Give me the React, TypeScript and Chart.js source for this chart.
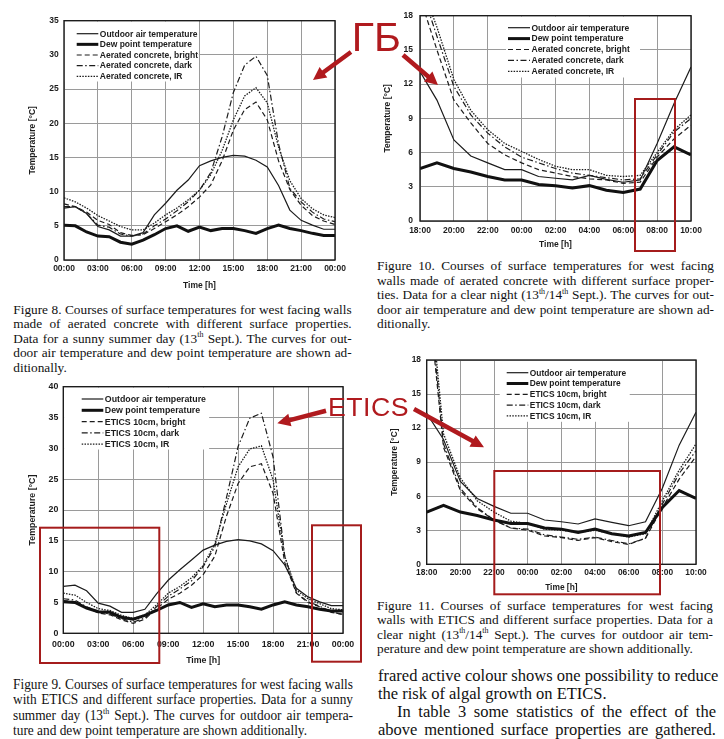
import React, { useEffect, useRef } from 'react';
import { Chart, registerables } from 'chart.js';
Chart.register(...registerables);

// ---------------- data ----------------
const HOURS_DAY = [0, 1, 2, 3, 4, 5, 6, 7, 8, 9, 10, 11, 12, 13, 14, 15, 16, 17, 18, 19, 20, 21, 22, 23, 24];
const HOURS_NIGHT = [18, 19, 20, 21, 22, 23, 24, 25, 26, 27, 28, 29, 30, 31, 32, 33, 34];

const X_LABELS_DAY = ['00:00', '03:00', '06:00', '09:00', '12:00', '15:00', '18:00', '21:00', '00:00'];
const X_LABELS_NIGHT = ['18:00', '20:00', '22:00', '00:00', '02:00', '04:00', '06:00', '08:00', '10:00'];

const LABELS_AC = ['Outdoor air temperature', 'Dew point temperature', 'Aerated concrete, bright', 'Aerated concrete, dark', 'Aerated concrete, IR'];
const LABELS_ETICS = ['Outdoor air temperature', 'Dew point temperature', 'ETICS 10cm, bright', 'ETICS 10cm, dark', 'ETICS 10cm, IR'];

// Figure 8 (sunny day, aerated concrete)
const outdoor8 = [7.6, 7.8, 6.8, 4.9, 4.4, 3.5, 3.5, 4.0, 6.6, 8.3, 10.2, 11.7, 13.8, 14.5, 15.0, 15.3, 15.2, 14.6, 13.6, 10.9, 7.3, 5.8, 5.1, 4.5, 4.5];
const dew8 = [5.1, 5.0, 4.1, 3.5, 3.4, 2.6, 2.3, 2.9, 3.7, 4.6, 5.0, 4.2, 4.8, 4.3, 4.6, 4.6, 4.3, 3.9, 4.6, 5.1, 4.6, 4.3, 3.9, 3.6, 3.6];
const bright8 = [8.2, 7.8, 7.0, 5.8, 5.2, 4.0, 3.6, 3.7, 4.6, 5.6, 6.6, 7.8, 9.2, 11.0, 14.5, 19.0, 22.0, 23.1, 20.5, 14.5, 10.3, 8.0, 6.5, 5.7, 5.2];
const dark8 = [7.8, 7.8, 6.8, 5.1, 4.8, 3.8, 3.5, 3.8, 5.0, 6.0, 7.2, 8.5, 10.2, 12.8, 18.0, 24.5, 28.5, 29.8, 27.0, 17.0, 10.5, 8.5, 7.0, 6.0, 5.6];
const ir8 = [9.1, 8.5, 7.6, 6.5, 5.7, 4.9, 4.4, 4.4, 5.4, 6.6, 7.6, 8.8, 10.2, 12.5, 16.0, 20.5, 24.0, 25.2, 23.0, 16.5, 11.6, 9.0, 7.5, 6.6, 6.2];

// Figure 10 (clear night, aerated concrete)
const outdoor10 = [13.1, 10.6, 7.1, 5.7, 5.1, 4.5, 4.5, 3.9, 3.75, 3.6, 4.0, 3.65, 3.4, 3.6, 6.8, 10.3, 13.5];
const dew10 = [4.6, 5.1, 4.6, 4.3, 3.9, 3.6, 3.6, 3.2, 3.1, 2.9, 3.1, 2.7, 2.5, 2.8, 5.3, 6.5, 5.8];
const bright10 = [19.6, 15.0, 10.6, 8.6, 6.8, 5.8, 5.1, 4.5, 4.2, 3.9, 3.7, 3.6, 3.3, 3.4, 5.6, 7.2, 8.4];
const dark10 = [20.7, 16.2, 11.8, 9.3, 7.7, 6.5, 5.6, 5.1, 4.6, 4.2, 4.0, 3.8, 3.6, 3.7, 5.8, 7.8, 9.0];
const ir10 = [21.0, 17.0, 12.4, 9.7, 8.0, 6.8, 6.1, 5.4, 4.8, 4.5, 4.5, 4.0, 3.9, 4.0, 6.0, 8.0, 9.3];

// Figure 9 (sunny day, ETICS)
const outdoor9 = [7.6, 7.8, 6.9, 4.9, 4.4, 3.4, 3.4, 3.9, 6.4, 8.6, 10.3, 11.9, 13.5, 14.3, 14.9, 15.2, 15.0, 14.5, 13.4, 11.1, 7.3, 5.9, 5.1, 4.5, 4.5];
const dew9 = [5.1, 5.0, 4.1, 3.5, 3.4, 2.6, 2.3, 2.9, 3.7, 4.6, 5.0, 4.2, 4.8, 4.3, 4.6, 4.6, 4.3, 3.9, 4.6, 5.1, 4.6, 4.3, 3.9, 3.6, 3.6];
const bright9 = [5.3, 5.1, 4.2, 3.3, 3.0, 2.2, 1.6, 2.3, 4.0, 5.5, 6.5, 7.8, 9.5, 12.5, 19.0, 24.3, 27.0, 27.5, 22.7, 11.5, 6.5, 5.0, 4.3, 3.4, 3.1];
const dark9 = [5.6, 5.4, 4.3, 3.5, 3.1, 2.4, 1.8, 2.5, 4.3, 6.0, 7.2, 8.5, 10.8, 14.0, 22.0, 30.3, 34.9, 35.7, 28.6, 12.5, 6.6, 5.1, 4.4, 3.5, 3.0];
const ir9 = [6.5, 6.2, 5.0, 4.0, 3.7, 2.9, 2.4, 3.0, 4.6, 6.5, 7.6, 9.0, 11.0, 14.5, 21.0, 27.0, 29.9, 30.4, 24.9, 12.5, 7.0, 5.6, 4.8, 4.0, 3.8];

// Figure 11 (clear night, ETICS)
const outdoor11 = [13.3, 11.0, 7.3, 5.8, 5.1, 4.5, 4.5, 3.9, 3.75, 3.55, 4.0, 3.7, 3.4, 3.75, 6.7, 10.5, 13.4];
const dew11 = [4.6, 5.2, 4.6, 4.3, 3.9, 3.6, 3.6, 3.2, 3.1, 2.8, 3.1, 2.7, 2.5, 2.8, 5.0, 6.5, 5.8];
const bright11 = [25.0, 10.3, 6.5, 4.9, 3.9, 3.2, 3.0, 2.5, 2.35, 2.1, 2.35, 2.0, 1.75, 2.3, 5.0, 7.5, 9.5];
const dark11 = [26.0, 10.6, 6.7, 5.0, 3.9, 3.2, 3.1, 2.6, 2.4, 2.2, 2.4, 2.1, 1.8, 2.3, 5.3, 8.0, 10.0];
const ir11 = [27.0, 11.5, 7.6, 5.6, 4.6, 3.8, 3.6, 3.1, 3.0, 2.8, 3.0, 2.7, 2.4, 2.7, 5.6, 8.3, 10.6];

// ---------------- text ----------------
const CAPTION_FIG8 = [
  'Figure 8. Courses of surface temperatures for west facing walls',
  'made of aerated concrete with different surface properties.',
  'Data for a sunny summer day (13^th Sept.). The curves for out-',
  'door air temperature and dew point temperature are shown ad-',
  'ditionally.',
];
const CAPTION_FIG10 = [
  'Figure 10. Courses of surface temperatures for west facing',
  'walls made of aerated concrete with different surface proper-',
  'ties. Data for a clear night (13^th/14^th Sept.). The curves for out-',
  'door air temperature and dew point temperature are shown ad-',
  'ditionally.',
];
const CAPTION_FIG9 = [
  'Figure 9. Courses of surface temperatures for west facing walls',
  'with ETICS and different surface properties. Data for a sunny',
  'summer day (13^th Sept.). The curves for outdoor air tempera-',
  'ture and dew point temperature are shown additionally.',
];
const CAPTION_FIG11 = [
  'Figure 11. Courses of surface temperatures for west facing',
  'walls with ETICS and different surface properties. Data for a',
  'clear night (13^th/14^th Sept.). The curves for outdoor air tem-',
  'perature and dew point temperature are shown additionally.',
];
const BODY_TEXT = [
  'frared active colour shows one possibility to reduce',
  'the risk of algal growth on ETICS.',
  'In table 3 some statistics of the effect of the',
  'above mentioned surface properties are gathered.',
];

// ---------------- chart helpers ----------------
const SANS = '"Liberation Sans", Arial, sans-serif';
const SERIF = '"Liberation Serif", "Times New Roman", serif';
const INK = '#1c1c1c';
const STYLES = [
  { borderWidth: 1.2, borderDash: [] as number[] },
  { borderWidth: 3, borderDash: [] as number[] },
  { borderWidth: 1.2, borderDash: [5, 3] },
  { borderWidth: 1.2, borderDash: [6, 2.5, 1.5, 2.5] },
  { borderWidth: 1.3, borderDash: [1.5, 1.3] },
];

const boxPlugin = {
  id: 'boxLegend',
  beforeDatasetsDraw(chart: any, _a: any, o: any) {
    const { ctx, chartArea: a } = chart;
    ctx.save();
    ctx.fillStyle = '#ffffff';
    ctx.fillRect(a.left + o.bx, a.top + 0.8, o.bw, o.bh);
    ctx.font = `bold ${o.fs}px ${SANS}`;
    ctx.textBaseline = 'middle';
    ctx.textAlign = 'left';
    chart.data.datasets.forEach((ds: any, i: number) => {
      const y = a.top + o.row0 + i * o.rowH;
      ctx.beginPath();
      ctx.setLineDash(ds.borderDash || []);
      ctx.lineWidth = ds.borderWidth;
      ctx.strokeStyle = ds.borderColor;
      ctx.moveTo(a.left + o.sx, y);
      ctx.lineTo(a.left + o.sx + o.sw, y);
      ctx.stroke();
      ctx.setLineDash([]);
      ctx.fillStyle = INK;
      ctx.fillText(ds.label, a.left + o.sx + o.sw + 1.5, y + 0.5);
    });
    ctx.restore();
  },
  afterDatasetsDraw(chart: any) {
    const { ctx, chartArea: a } = chart;
    ctx.save();
    ctx.strokeStyle = INK;
    ctx.lineWidth = 1.4;
    ctx.strokeRect(a.left, a.top, a.right - a.left, a.bottom - a.top);
    ctx.restore();
  },
};

function buildConfig(p: any) {
  const datasets = p.series.map((vals: number[], i: number) => ({
    label: p.labels[i],
    data: vals.map((v, j) => ({ x: p.hours[j], y: v })),
    borderColor: i === 1 ? '#111111' : INK,
    borderWidth: STYLES[i].borderWidth,
    borderDash: STYLES[i].borderDash,
    pointRadius: 0,
    tension: 0,
    fill: false,
  }));
  const font = { family: SANS, size: p.fs, weight: 'bold' as const };
  const grid = { color: '#9a9a9a', lineWidth: 1, drawTicks: false };
  return {
    type: 'line' as const,
    data: { datasets },
    options: {
      animation: false as const,
      responsive: false,
      events: [] as any[],
      layout: { padding: { left: 0, right: p.padR, top: p.padT, bottom: 0 } },
      plugins: {
        legend: { display: false },
        tooltip: { enabled: false },
        boxLegend: p.legend,
      },
      scales: {
        x: {
          type: 'linear' as const,
          min: p.xMin,
          max: p.xMax,
          ticks: {
            stepSize: p.xStep,
            autoSkip: false,
            maxRotation: 0,
            padding: p.xTickPad,
            font,
            color: INK,
            callback: (v: any) => p.xLabels[Math.round((Number(v) - p.xMin) / p.xStep)] ?? '',
          },
          grid,
          border: { display: false },
          title: { display: true, text: 'Time [h]', font, color: INK, padding: { top: 0, bottom: p.xTitlePad } },
          afterFit: (s: any) => { s.height = p.xH; },
        },
        y: {
          min: 0,
          max: p.yMax,
          ticks: { stepSize: p.yStep, padding: p.yTickPad, font, color: INK },
          grid,
          border: { display: false },
          title: { display: true, text: 'Temperature [°C]', font, color: INK, padding: { top: p.yTitlePad, bottom: 0 } },
          afterFit: (s: any) => { s.width = p.yW; },
        },
      },
    },
    plugins: [boxPlugin],
  };
}

const CHARTS = [
  {
    key: 'fig8', left: 0, top: 0, width: 360, height: 300,
    p: {
      hours: HOURS_DAY, series: [outdoor8, dew8, bright8, dark8, ir8], labels: LABELS_AC,
      xMin: 0, xMax: 24, xStep: 3, xLabels: X_LABELS_DAY, yMax: 35, yStep: 5,
      yW: 64, padR: 25, padT: 20.7, xH: 40, xTickPad: 3.9, xTitlePad: 8.9, yTickPad: 5.3, yTitlePad: 27.9, fs: 8.5,
      legend: { bx: 0.8, bw: 134, bh: 60, row0: 13, rowH: 10.65, sx: 12.7, sw: 21.6, fs: 8.5 },
    },
  },
  {
    key: 'fig10', left: 360, top: 0, width: 364, height: 250,
    p: {
      hours: HOURS_NIGHT, series: [outdoor10, dew10, bright10, dark10, ir10], labels: LABELS_AC,
      xMin: 18, xMax: 34, xStep: 2, xLabels: X_LABELS_NIGHT, yMax: 18, yStep: 3,
      yW: 60, padR: 33, padT: 15.7, xH: 29, xTickPad: 4.9, xTitlePad: 0, yTickPad: 7, yTitlePad: 22.9, fs: 8.5,
      legend: { bx: 86, bw: 134, bh: 61, row0: 12, rowH: 10.9, sx: 88, sw: 22, fs: 8.5 },
    },
  },
  {
    key: 'fig9', left: 0, top: 375, width: 360, height: 295,
    p: {
      hours: HOURS_DAY, series: [outdoor9, dew9, bright9, dark9, ir9], labels: LABELS_ETICS,
      xMin: 0, xMax: 24, xStep: 3, xLabels: X_LABELS_DAY, yMax: 40, yStep: 5,
      yW: 63.3, padR: 17, padT: 11.7, xH: 36.7, xTickPad: 5.6, xTitlePad: 3.9, yTickPad: 5, yTitlePad: 26.9, fs: 8.8,
      legend: { bx: 0.8, bw: 145, bh: 62, row0: 12.3, rowH: 11.3, sx: 18.4, sw: 21.6, fs: 8.8 },
    },
  },
  {
    key: 'fig11', left: 360, top: 345, width: 364, height: 250,
    p: {
      hours: HOURS_NIGHT, series: [outdoor11, dew11, bright11, dark11, ir11], labels: LABELS_ETICS,
      xMin: 18, xMax: 34, xStep: 2, xLabels: X_LABELS_NIGHT, yMax: 18, yStep: 3,
      yW: 66.7, padR: 28, padT: 15, xH: 30.7, xTickPad: 3.6, xTitlePad: 1.9, yTickPad: 5.7, yTitlePad: 29.9, fs: 8.4,
      legend: { bx: 73, bw: 130, bh: 61, row0: 12.7, rowH: 10.8, sx: 80, sw: 21.6, fs: 8.4 },
    },
  },
];

function ChartCanvas({ left, top, width, height, p }: any) {
  const ref = useRef<HTMLCanvasElement>(null);
  useEffect(() => {
    const chart = new Chart(ref.current as HTMLCanvasElement, buildConfig(p) as any);
    return () => chart.destroy();
  }, []);
  return (
    <canvas
      ref={ref}
      width={width}
      height={height}
      style={{ position: 'absolute', left, top, width, height }}
    />
  );
}

// ---------------- text helpers ----------------
function renderLine(s: string) {
  const parts = s.split('^th');
  const out: any[] = [];
  parts.forEach((part, i) => {
    out.push(<span key={'t' + i}>{part}</span>);
    if (i < parts.length - 1) {
      out.push(
        <sup key={'s' + i} style={{ fontSize: '0.6em', verticalAlign: 'top', lineHeight: 1, position: 'relative', top: '-0.05em' }}>th</sup>
      );
    }
  });
  return out;
}

function TextBlock({ lines, left, top, width, fs, lh, leftAligned, indents = {}, scaleX = 1 }: any) {
  return (
    <div style={{ position: 'absolute', left, top, width, transform: `scaleX(${scaleX})`, transformOrigin: '0 0' }}>
      {lines.map((ln: string, i: number) => {
        const ind = indents[i] || 0;
        const just = !leftAligned.includes(i);
        return (
          <div
            key={i}
            style={{
              position: 'absolute',
              left: ind,
              top: i * lh,
              width: width / scaleX - ind,
              fontFamily: SERIF,
              fontSize: fs,
              lineHeight: `${lh}px`,
              color: '#111',
              whiteSpace: 'nowrap',
              textAlign: just ? 'justify' : 'left',
              textAlignLast: just ? 'justify' : 'left',
            } as any}
          >
            {renderLine(ln)}
          </div>
        );
      })}
    </div>
  );
}

// ---------------- red annotations ----------------
const RED = '#b01a1e';
const RECT_RED = '#a51c1c';

function arrowPoints(x1: number, y1: number, x2: number, y2: number, sw = 4.5, hl = 13, hw = 13) {
  const dx = x2 - x1, dy = y2 - y1;
  const L = Math.hypot(dx, dy);
  const ux = dx / L, uy = dy / L, nx = -uy, ny = ux;
  const bx = x2 - ux * hl, by = y2 - uy * hl;
  const pts = [
    [x1 + nx * sw / 2, y1 + ny * sw / 2],
    [bx + nx * sw / 2, by + ny * sw / 2],
    [bx + nx * hw / 2, by + ny * hw / 2],
    [x2, y2],
    [bx - nx * hw / 2, by - ny * hw / 2],
    [bx - nx * sw / 2, by - ny * sw / 2],
    [x1 - nx * sw / 2, y1 - ny * sw / 2],
  ];
  return pts.map((q) => q[0].toFixed(1) + ',' + q[1].toFixed(1)).join(' ');
}

const ARROWS = [
  [351, 52, 313, 80],
  [403, 55, 438, 85],
  [326, 410.7, 277.3, 423.3],
  [414, 409, 484, 447.3],
];
const RECTS = [
  [635, 99, 675, 251],
  [40, 527.7, 159.3, 663],
  [312, 525.3, 361, 661.7],
  [494.3, 471, 660, 594.3],
];

function Overlay() {
  return (
    <svg width={724} height={739} style={{ position: 'absolute', left: 0, top: 0, pointerEvents: 'none' }}>
      {RECTS.map((r, i) => (
        <rect key={i} x={r[0]} y={r[1]} width={r[2] - r[0]} height={r[3] - r[1]} fill="none" stroke={RECT_RED} strokeWidth={2} />
      ))}
      {ARROWS.map((a, i) => (
        <polygon key={i} points={arrowPoints(a[0], a[1], a[2], a[3])} fill={RED} />
      ))}
    </svg>
  );
}

export default function App() {
  return (
    <div style={{ position: 'absolute', left: 0, top: 0, width: 724, height: 739, background: '#fff', overflow: 'hidden' }}>
      {CHARTS.map((c) => (
        <ChartCanvas key={c.key} left={c.left} top={c.top} width={c.width} height={c.height} p={c.p} />
      ))}
      <TextBlock lines={CAPTION_FIG8} left={13.3} top={302.7} width={338.4} fs={13.3} lh={14.5} leftAligned={[4]} />
      <TextBlock lines={CAPTION_FIG10} left={377} top={259.3} width={337} fs={13.3} lh={14.5} leftAligned={[4]} />
      <TextBlock lines={CAPTION_FIG9} left={13.3} top={676.8} width={340} fs={14.5} lh={15.5} leftAligned={[3]} scaleX={0.92} />
      <TextBlock lines={CAPTION_FIG11} left={377} top={598.7} width={336} fs={13.3} lh={14.5} leftAligned={[3]} />
      <TextBlock lines={BODY_TEXT} left={378} top={667} width={338} fs={16.5} lh={18} leftAligned={[1]} indents={{ 2: 19 }} />
      <Overlay />
      <div style={{ position: 'absolute', left: 351.7, top: 16.5, fontFamily: SANS, fontSize: 41, lineHeight: 1, color: RED, whiteSpace: 'nowrap' }}>ГБ</div>
      <div style={{ position: 'absolute', left: 327.9, top: 394.1, fontFamily: SANS, fontSize: 26.7, lineHeight: 1, color: RED, whiteSpace: 'nowrap', letterSpacing: 0.5 }}>ETICS</div>
    </div>
  );
}
